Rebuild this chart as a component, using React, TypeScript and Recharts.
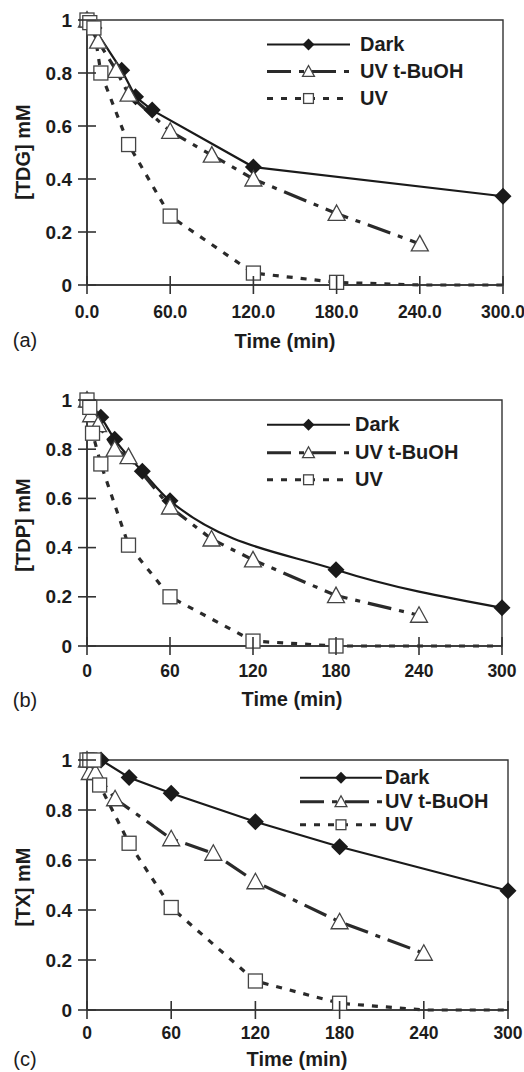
import React from 'react';
import { LineChart, Line, XAxis, YAxis, ReferenceArea, Legend } from 'recharts';

const TIME_TICKS = [0, 60, 120, 180, 240, 300];
const CONC_TICKS = [0, 0.2, 0.4, 0.6, 0.8, 1];
const SERIES_NAMES = ['Dark', 'UV t-BuOH', 'UV'];

// (a) TDG
const tdgDarkTime = [0, 5, 25, 35, 47, 120, 300];
const tdgDark = [1.0, 0.97, 0.81, 0.71, 0.66, 0.445, 0.335];
const tdgBuohTime = [0, 8, 21, 30, 60, 90, 120, 180, 240];
const tdgBuoh = [1.0, 0.92, 0.81, 0.72, 0.58, 0.49, 0.4, 0.27, 0.155];
const tdgUvTime = [0, 2, 5, 10, 30, 60, 120, 180, 240, 300];
const tdgUv = [1.0, 0.99, 0.97, 0.8, 0.53, 0.26, 0.045, 0.01, 0, 0];

// (b) TDP
const tdpDarkTime = [0, 10, 20, 40, 60, 180, 300];
const tdpDark = [1.0, 0.93, 0.84, 0.71, 0.59, 0.31, 0.155];
const tdpBuohTime = [0, 3, 8, 20, 30, 60, 90, 120, 180, 240];
const tdpBuoh = [1.0, 0.94, 0.9, 0.8, 0.77, 0.565, 0.435, 0.35, 0.205, 0.125];
const tdpUvTime = [0, 2, 4, 10, 30, 60, 120, 180, 240, 300];
const tdpUv = [1.0, 0.97, 0.865, 0.74, 0.41, 0.2, 0.02, 0.0, 0, 0];

// (c) TX
const txDarkTime = [0, 10, 30, 60, 120, 180, 300];
const txDark = [1.0, 1.0, 0.93, 0.867, 0.753, 0.653, 0.477];
const txBuohTime = [0, 2, 6, 20, 60, 90, 120, 180, 240];
const txBuoh = [1.0, 0.95, 0.95, 0.845, 0.685, 0.627, 0.513, 0.353, 0.227];
const txUvTime = [0, 2, 5, 9, 30, 60, 120, 180, 240, 300];
const txUv = [1.0, 1.0, 1.0, 0.9, 0.667, 0.41, 0.116, 0.027, 0, 0];

type Pt = { t: number; c: number };
const zip = (ts: number[], cs: number[]): Pt[] => ts.map((t, i) => ({ t, c: cs[i] }));

const FONT = '"Liberation Sans", Arial, sans-serif';
const INK = '#1c1c1c';
const AXIS = '#333';
const LAST_UV_MARKER = 180; // flat tail after this is drawn without markers

const STYLE: Record<string, { stroke: string; width: number; dash?: string; marker: string }> = {
  Dark: { stroke: '#1a1a1a', width: 2.2, marker: 'diamond' },
  'UV t-BuOH': { stroke: '#2a2a2a', width: 3.2, dash: '24 8 5 8', marker: 'triangle' },
  UV: { stroke: '#2a2a2a', width: 3.2, dash: '6 8', marker: 'square' },
};

function Marker({ kind, cx, cy, s = 1 }: { kind: string; cx: number; cy: number; s?: number }) {
  if (kind === 'diamond') {
    const r = 8.5 * s;
    return <path d={`M${cx},${cy - r}L${cx + r},${cy}L${cx},${cy + r}L${cx - r},${cy}Z`} fill="#1a1a1a" />;
  }
  if (kind === 'triangle') {
    return (
      <path
        d={`M${cx},${cy - 8.5 * s}L${cx + 8.5 * s},${cy + 7 * s}L${cx - 8.5 * s},${cy + 7 * s}Z`}
        fill="#fff"
        stroke="#444"
        strokeWidth={1.3}
      />
    );
  }
  const h = 7 * s;
  return <rect x={cx - h} y={cy - h} width={2 * h} height={2 * h} fill="#fff" stroke="#444" strokeWidth={1.3} />;
}

const makeXTick = (decimals: boolean, dy: number) => (props: any) => {
  const { x, y, payload } = props;
  return (
    <g>
      <line x1={x} x2={x} y1={y - 9} y2={y + 9} stroke={AXIS} strokeWidth={1.6} />
      <text x={x} y={y + dy} textAnchor="middle" dominantBaseline="central" fontFamily={FONT} fontWeight="bold" fontSize={17.5} fill={INK}>
        {decimals ? Number(payload.value).toFixed(1) : payload.value}
      </text>
    </g>
  );
};

const YTick = (props: any) => {
  const { x, y, payload } = props;
  return (
    <g>
      <line x1={x - 9} x2={x + 9} y1={y} y2={y} stroke={AXIS} strokeWidth={1.6} />
      <text x={x - 15} y={y} textAnchor="end" dominantBaseline="central" fontFamily={FONT} fontWeight="bold" fontSize={19} fill={INK}>
        {payload.value}
      </text>
    </g>
  );
};

const makeLegend = (rowH: number, lineLen: number, textX: number) => (props: any) => {
  const names: string[] = (props.payload ?? []).map((p: any) => p.value);
  const ordered = SERIES_NAMES.filter((n) => names.includes(n));
  return (
    <div style={{ fontFamily: FONT, fontWeight: 'bold', fontSize: 20, color: INK }}>
      {ordered.map((name) => {
        const st = STYLE[name];
        return (
          <div key={name} style={{ display: 'flex', alignItems: 'center', height: rowH }}>
            <svg width={textX} height={rowH} style={{ flex: 'none' }}>
              <line x1={0} x2={lineLen} y1={rowH / 2} y2={rowH / 2} stroke={st.stroke} strokeWidth={st.width} strokeDasharray={st.dash} />
              <Marker kind={st.marker} cx={lineLen / 2} cy={rowH / 2} s={0.7} />
            </svg>
            <span style={{ whiteSpace: 'nowrap' }}>{name}</span>
          </div>
        );
      })}
    </div>
  );
};

type PanelProps = {
  top: number;
  height: number;
  xAxisHeight: number;
  marginRight: number;
  decimals: boolean;
  tickDy: number;
  darkType: 'linear' | 'monotone';
  dark: Pt[];
  buoh: Pt[];
  uv: Pt[];
  legend: { left: number; top: number; rowH: number; lineLen: number; textX: number };
};

function Panel(p: PanelProps) {
  return (
    <div style={{ position: 'absolute', left: 0, top: p.top }}>
      <LineChart
        width={524}
        height={p.height}
        margin={{ top: 20, right: p.marginRight, left: 0, bottom: 0 }}
        style={{ overflow: 'visible' }}
      >
        <XAxis
          type="number"
          dataKey="t"
          domain={[0, 300]}
          ticks={TIME_TICKS}
          interval={0}
          height={p.xAxisHeight}
          tickSize={0}
          tickMargin={0}
          tickLine={false}
          axisLine={{ stroke: AXIS, strokeWidth: 1.6 }}
          tick={makeXTick(p.decimals, p.tickDy)}
        />
        <YAxis
          type="number"
          dataKey="c"
          domain={[0, 1]}
          ticks={CONC_TICKS}
          interval={0}
          width={87}
          tickSize={0}
          tickMargin={0}
          tickLine={false}
          axisLine={{ stroke: AXIS, strokeWidth: 1.6 }}
          tick={YTick}
        />
        <ReferenceArea x1={0} x2={300} y1={0} y2={1} fill="none" stroke={AXIS} strokeWidth={1.4} />
        <Legend
          layout="vertical"
          align="center"
          verticalAlign="middle"
          wrapperStyle={{ left: p.legend.left, top: p.legend.top, width: 240 }}
          content={makeLegend(p.legend.rowH, p.legend.lineLen, p.legend.textX)}
        />
        <Line
          data={p.dark}
          dataKey="c"
          name="Dark"
          type={p.darkType}
          stroke={STYLE.Dark.stroke}
          strokeWidth={STYLE.Dark.width}
          dot={(d: any) => <Marker key={`dk${d.index}`} kind="diamond" cx={d.cx} cy={d.cy} />}
          activeDot={false}
          isAnimationActive={false}
        />
        <Line
          data={p.buoh}
          dataKey="c"
          name="UV t-BuOH"
          type="linear"
          stroke={STYLE['UV t-BuOH'].stroke}
          strokeWidth={STYLE['UV t-BuOH'].width}
          strokeDasharray={STYLE['UV t-BuOH'].dash}
          dot={(d: any) => <Marker key={`tb${d.index}`} kind="triangle" cx={d.cx} cy={d.cy} />}
          activeDot={false}
          isAnimationActive={false}
        />
        <Line
          data={p.uv}
          dataKey="c"
          name="UV"
          type="linear"
          stroke={STYLE.UV.stroke}
          strokeWidth={STYLE.UV.width}
          strokeDasharray={STYLE.UV.dash}
          dot={(d: any) =>
            d.payload.t > LAST_UV_MARKER ? <g key={`uv${d.index}`} /> : <Marker key={`uv${d.index}`} kind="square" cx={d.cx} cy={d.cy} />
          }
          activeDot={false}
          isAnimationActive={false}
        />
      </LineChart>
    </div>
  );
}

const textBase: React.CSSProperties = {
  position: 'absolute',
  fontFamily: FONT,
  fontSize: 20,
  color: INK,
  whiteSpace: 'nowrap',
  lineHeight: 1,
};

function Caption({ x, y, text, bold = true, rotate = false }: { x: number; y: number; text: string; bold?: boolean; rotate?: boolean }) {
  return (
    <div
      style={{
        ...textBase,
        left: x,
        top: y,
        fontWeight: bold ? 'bold' : 'normal',
        transform: `translate(-50%, -50%)${rotate ? ' rotate(-90deg)' : ''}`,
      }}
    >
      {text}
    </div>
  );
}

export default function App() {
  return (
    <div style={{ position: 'absolute', left: 0, top: 0, width: 524, height: 1072, background: '#fff', overflow: 'hidden' }}>
      <Panel
        top={0}
        height={330}
        xAxisHeight={45}
        marginRight={21}
        decimals
        tickDy={27}
        darkType="linear"
        dark={zip(tdgDarkTime, tdgDark)}
        buoh={zip(tdgBuohTime, tdgBuoh)}
        uv={zip(tdgUvTime, tdgUv)}
        legend={{ left: 267, top: 31, rowH: 27, lineLen: 83, textX: 93 }}
      />
      <Caption x={23} y={152} text="[TDG] mM" rotate />
      <Caption x={285} y={341} text="Time (min)" />
      <Caption x={25} y={340} text="(a)" bold={false} />

      <Panel
        top={380}
        height={310}
        xAxisHeight={44}
        marginRight={22}
        decimals={false}
        tickDy={25}
        darkType="monotone"
        dark={zip(tdpDarkTime, tdpDark)}
        buoh={zip(tdpBuohTime, tdpBuoh)}
        uv={zip(tdpUvTime, tdpUv)}
        legend={{ left: 267, top: 31, rowH: 27.5, lineLen: 83, textX: 88 }}
      />
      <Caption x={23} y={525} text="[TDP] mM" rotate />
      <Caption x={292} y={699} text="Time (min)" />
      <Caption x={25} y={700} text="(b)" bold={false} />

      <Panel
        top={740}
        height={310}
        xAxisHeight={40}
        marginRight={16}
        decimals={false}
        tickDy={23}
        darkType="linear"
        dark={zip(txDarkTime, txDark)}
        buoh={zip(txBuohTime, txBuoh)}
        uv={zip(txUvTime, txUv)}
        legend={{ left: 300, top: 26, rowH: 23.5, lineLen: 82, textX: 85 }}
      />
      <Caption x={23} y={887} text="[TX] mM" rotate />
      <Caption x={297} y={1059} text="Time (min)" />
      <Caption x={25} y={1059} text="(c)" bold={false} />
    </div>
  );
}
